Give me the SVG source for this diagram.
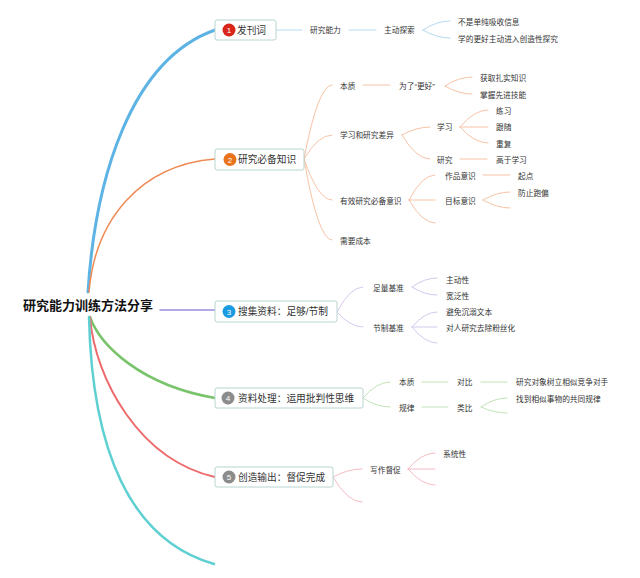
<svg xmlns="http://www.w3.org/2000/svg" width="640" height="578" viewBox="0 0 640 578">
<style>
text{font-family:"Liberation Sans","Noto Sans CJK SC",sans-serif;fill:#333}
.root{font-size:13px;font-weight:bold;fill:#111}
.nt{font-size:9.7px}
.st{font-size:7.7px}
.num{font-size:8px;fill:#fff;text-anchor:middle}
.box{fill:#fff;stroke:#b8d4d1;stroke-width:1}
path{fill:none;stroke-linecap:round}
.s1{stroke:#b5daf0;stroke-width:1}
.s2{stroke:#f7c3a6;stroke-width:1}
.s3{stroke:#d5c9ef;stroke-width:1}
.s4{stroke:#c2e3b8;stroke-width:1}
.s5{stroke:#f7bcc3;stroke-width:1}
</style>
<rect width="640" height="578" fill="#fff"/>
<g id="connectors">
<path d="M88 292C95 180 130 60 215 30" stroke="#5db3e4" stroke-width="3"/>
<path d="M89 292C95 220 140 165 215 159" stroke="#f08a55" stroke-width="1.5"/>
<path d="M160 310H215" stroke="#9d8fdc" stroke-width="1.5"/>
<path d="M90 317C100 345 140 385 215 398" stroke="#79c46a" stroke-width="2.5"/>
<path d="M90 317C95 380 140 460 215 477" stroke="#ee6b6d" stroke-width="2"/>
<path d="M89 317C92 450 130 540 214 564" stroke="#5fd0d2" stroke-width="2.5"/>
<g class="s1">
<path d="M276 30H302"/><path d="M349 30H376"/>
<path d="M423 30Q436.5 21 450 21"/><path d="M423 30Q436.5 38 450 38"/>
</g>
<g class="s2">
<path d="M304 159Q318 85 332 85"/><path d="M304 159Q318 135 332 135"/>
<path d="M304 159Q318 200 332 200"/><path d="M304 159Q318 240 332 240"/>
<path d="M363 85H390"/>
<path d="M445 86Q458.5 77 472 77"/><path d="M445 86Q458.5 94 472 94"/>
<path d="M402 135Q416 127 430 127"/><path d="M402 135Q416 159 430 159"/>
<path d="M460 127Q474 110 488 110"/><path d="M460 127H488"/><path d="M460 127Q474 143 488 143"/>
<path d="M460 159H487"/>
<path d="M409 200Q422 175 435 175"/><path d="M409 200H435"/><path d="M409 200Q422 223 435 223"/>
<path d="M483 175H510"/>
<path d="M483 200Q496.5 192 510 192"/><path d="M483 200Q496.5 208 510 208"/>
</g>
<g class="s3">
<path d="M337 312Q350 287 363 287"/><path d="M337 312Q350 327 363 327"/>
<path d="M412 287Q424.5 278 437 278"/><path d="M412 287Q424.5 295 437 295"/>
<path d="M412 327Q424.5 312 437 312"/><path d="M412 327H437"/><path d="M412 327Q424.5 343 437 343"/>
</g>
<g class="s4">
<path d="M363 398Q376.5 382 390 382"/><path d="M363 398Q376.5 407 390 407"/>
<path d="M422 382H448"/><path d="M481 382H507"/><path d="M422 407H448"/>
<path d="M481 407Q494 398 507 398"/><path d="M481 407Q494 413 507 413"/>
</g>
<g class="s5">
<path d="M333 477Q347.5 469 362 469"/><path d="M333 477Q347.5 502 362 502"/>
<path d="M408 469Q421.5 453 435 453"/><path d="M408 469H435"/><path d="M408 469Q421.5 485 435 485"/>
</g>
</g>
<g id="root"><text class="root" x="23" y="310">研究能力训练方法分享</text></g>
<g id="n1"><rect class="box" x="215" y="20" width="61" height="20" rx="2"/><circle cx="229" cy="30" r="6.5" fill="#d8261b"/><text class="num" x="229" y="33">1</text><text class="nt" x="237" y="33.7">发刊词</text></g>
<g id="n2"><rect class="box" x="215" y="149" width="89" height="21" rx="2"/><circle cx="230" cy="159.5" r="6.5" fill="#e8731c"/><text class="num" x="230" y="162.5">2</text><text class="nt" x="238" y="163.2">研究必备知识</text></g>
<g id="n3"><rect class="box" x="215" y="301" width="122" height="21" rx="2"/><circle cx="229" cy="311.5" r="6.5" fill="#1a9ae0"/><text class="num" x="229" y="314.5">3</text><text class="nt" x="238" y="315.2">搜集资料：足够/节制</text></g>
<g id="n4"><rect class="box" x="215" y="388" width="148" height="20" rx="2"/><circle cx="228" cy="398" r="6.5" fill="#8c8c8c"/><text class="num" x="228" y="401">4</text><text class="nt" x="238" y="401.7">资料处理：运用批判性思维</text></g>
<g id="n5"><rect class="box" x="215" y="467" width="118" height="20" rx="2"/><circle cx="229" cy="477" r="6.5" fill="#8c8c8c"/><text class="num" x="229" y="480">5</text><text class="nt" x="238" y="480.7">创造输出：督促完成</text></g>
<g id="n1-sub">
<g id="n1a"><text class="st" x="310" y="33">研究能力</text></g>
<g id="n1b"><text class="st" x="384" y="33">主动探索</text></g>
<g id="n1c"><text class="st" x="458" y="25">不是单纯吸收信息</text></g>
<g id="n1d"><text class="st" x="458" y="42">学的更好主动进入创造性探究</text></g>
</g>
<g id="n2-sub">
<g id="n2a"><text class="st" x="340" y="89">本质</text></g>
<g id="n2b"><text class="st" x="399" y="89">为了“更好”</text></g>
<g id="n2c"><text class="st" x="480" y="81">获取扎实知识</text></g>
<g id="n2d"><text class="st" x="480" y="98">掌握先进技能</text></g>
<g id="n2e"><text class="st" x="340" y="138">学习和研究差异</text></g>
<g id="n2f"><text class="st" x="437" y="130">学习</text></g>
<g id="n2g"><text class="st" x="496" y="114">练习</text></g>
<g id="n2h"><text class="st" x="496" y="130">跟随</text></g>
<g id="n2i"><text class="st" x="496" y="147">重复</text></g>
<g id="n2j"><text class="st" x="437" y="163">研究</text></g>
<g id="n2k"><text class="st" x="496" y="163">高于学习</text></g>
<g id="n2l"><text class="st" x="340" y="204">有效研究必备意识</text></g>
<g id="n2m"><text class="st" x="445" y="179">作品意识</text></g>
<g id="n2n"><text class="st" x="518" y="179">起点</text></g>
<g id="n2o"><text class="st" x="445" y="204">目标意识</text></g>
<g id="n2p"><text class="st" x="518" y="196">防止跑偏</text></g>
<g id="n2q"><text class="st" x="340" y="244">需要成本</text></g>
</g>
<g id="n3-sub">
<g id="n3a"><text class="st" x="373" y="291">足量基准</text></g>
<g id="n3b"><text class="st" x="446" y="283">主动性</text></g>
<g id="n3c"><text class="st" x="446" y="299">宽泛性</text></g>
<g id="n3d"><text class="st" x="373" y="331">节制基准</text></g>
<g id="n3e"><text class="st" x="446" y="315">避免沉溺文本</text></g>
<g id="n3f"><text class="st" x="446" y="331">对人研究去除粉丝化</text></g>
</g>
<g id="n4-sub">
<g id="n4a"><text class="st" x="399" y="385">本质</text></g>
<g id="n4b"><text class="st" x="399" y="411">规律</text></g>
<g id="n4c"><text class="st" x="457" y="385">对比</text></g>
<g id="n4d"><text class="st" x="457" y="411">类比</text></g>
<g id="n4e"><text class="st" x="516" y="385">研究对象树立相似竞争对手</text></g>
<g id="n4f"><text class="st" x="516" y="402">找到相似事物的共同规律</text></g>
</g>
<g id="n5-sub">
<g id="n5a"><text class="st" x="370" y="473">写作督促</text></g>
<g id="n5b"><text class="st" x="443" y="457">系统性</text></g>
</g>
</svg>
